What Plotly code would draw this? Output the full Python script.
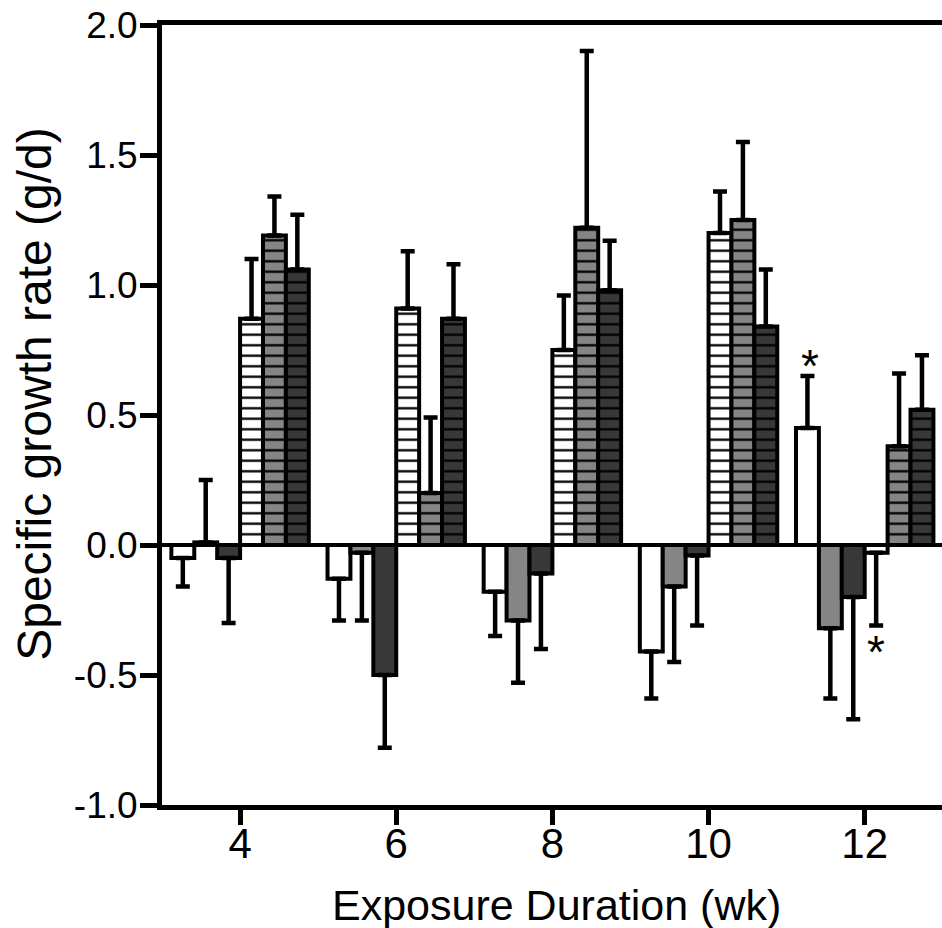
import plotly.graph_objects as go

weeks = [4, 6, 8, 10, 12]

plain_white = [-0.05, -0.13, -0.18, -0.41, 0.45]
plain_white_err = [0.11, 0.16, 0.17, 0.18, 0.20]
plain_gray = [0.01, -0.03, -0.29, -0.16, -0.32]
plain_gray_err = [0.24, 0.26, 0.24, 0.29, 0.27]
plain_dark = [-0.05, -0.50, -0.11, -0.04, -0.20]
plain_dark_err = [0.25, 0.28, 0.29, 0.27, 0.47]
hatched_white = [0.87, 0.91, 0.75, 1.20, -0.03]
hatched_white_err = [0.23, 0.22, 0.21, 0.16, 0.28]
hatched_gray = [1.19, 0.20, 1.22, 1.25, 0.38]
hatched_gray_err = [0.15, 0.29, 0.68, 0.30, 0.28]
hatched_dark = [1.06, 0.87, 0.98, 0.84, 0.52]
hatched_dark_err = [0.21, 0.21, 0.19, 0.22, 0.21]

y_tick_vals = [-1.0, -0.5, 0.0, 0.5, 1.0, 1.5, 2.0]
y_tick_text = ["-1.0", "-0.5", "0.0", "0.5", "1.0", "1.5", "2.0"]
x_tick_text = ["4", "6", "8", "10", "12"]

x_title = "Exposure Duration (wk)"
y_title = "Specific growth rate (g/d)"

# significance markers: (series index, week index)
star_marks = [(0, 4), (3, 4)]

series = [
    (plain_white, plain_white_err, "#ffffff", False),
    (plain_gray, plain_gray_err, "#858585", False),
    (plain_dark, plain_dark_err, "#383838", False),
    (hatched_white, hatched_white_err, "#ffffff", True),
    (hatched_gray, hatched_gray_err, "#858585", True),
    (hatched_dark, hatched_dark_err, "#383838", True),
]

BARGAP = 0.12
fig = go.Figure()
for vals, errs, col, hatched in series:
    up = [e if v >= 0 else 0 for v, e in zip(vals, errs)]
    down = [e if v < 0 else 0 for v, e in zip(vals, errs)]
    marker = dict(color=col, line=dict(color="black", width=4))
    if hatched:
        marker["pattern"] = dict(shape="-", fgcolor="black", bgcolor=col,
                                 size=10.5, solidity=0.22, fillmode="replace")
    fig.add_trace(go.Bar(
        x=weeks, y=vals, marker=marker,
        error_y=dict(type="data", symmetric=False, array=up, arrayminus=down,
                     color="black", thickness=4.5, width=7),
        showlegend=False,
    ))

# asterisks
n = len(series)
bw = (1 - BARGAP) * 2 / n
for si, wi in star_marks:
    vals, errs = series[si][0], series[si][1]
    v, e = vals[wi], errs[wi]
    xc = weeks[wi] + (si - (n - 1) / 2) * bw
    if v >= 0:
        fig.add_annotation(x=xc, y=v + e, text="*", showarrow=False,
                           yanchor="bottom", yshift=-18, xshift=3,
                           font=dict(size=46, color="black", family="Liberation Sans"))
    else:
        fig.add_annotation(x=xc, y=v - e, text="*", showarrow=False,
                           yanchor="top", yshift=2,
                           font=dict(size=46, color="black", family="Liberation Sans"))

fig.add_annotation(text=x_title, xref="paper", yref="paper", x=0.506, y=-0.128,
                   xanchor="center", yanchor="middle", showarrow=False,
                   font=dict(size=43, color="black", family="Liberation Sans, Arial"))
fig.add_annotation(text=y_title, xref="paper", yref="paper", x=-0.163, y=0.527,
                   xanchor="center", yanchor="middle", showarrow=False, textangle=-90,
                   font=dict(size=48, color="black", family="Liberation Sans, Arial"))

fig.update_layout(
    width=942, height=928,
    margin=dict(l=162, r=0, t=25, b=123),
    paper_bgcolor="white", plot_bgcolor="white",
    barmode="group", bargap=BARGAP, bargroupgap=0,
    font=dict(family="Liberation Sans, Arial", color="black"),
)
fig.update_xaxes(
    range=[3, 12.99], tickvals=weeks, ticktext=x_tick_text,
    showline=True, linewidth=5, linecolor="black", mirror=True,
    ticks="outside", ticklen=15, tickwidth=5, tickcolor="black",
    showgrid=False, zeroline=False, ticklabelstandoff=-17,
    ticklabeloverflow="allow",
    tickfont=dict(size=42, family="Liberation Sans, Arial"),
)
fig.update_yaxes(
    range=[-1, 2], tickvals=y_tick_vals, ticktext=y_tick_text,
    showline=True, linewidth=5, linecolor="black",
    ticks="outside", ticklen=17, tickwidth=5, tickcolor="black",
    showgrid=False, zeroline=True, zerolinewidth=4, zerolinecolor="black",
    ticklabelstandoff=-5, ticklabeloverflow="allow",
    tickfont=dict(size=37, family="Liberation Sans, Arial"),
)

fig.write_html(
    "out.html",
    config={"displayModeBar": False},
    post_script="document.body.style.margin='0';document.body.style.overflow='hidden';",
)
